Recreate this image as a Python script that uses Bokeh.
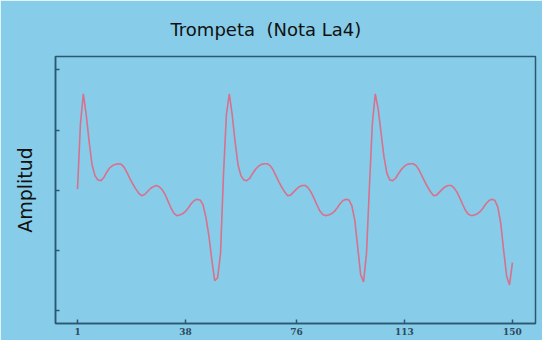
from bokeh.plotting import figure
from bokeh.models import FixedTicker, Range1d, CustomJSTickFormatter
from bokeh.embed import file_html
from bokeh.resources import INLINE

# sample index 1..150
samples = list(range(1, 151))
amplitude = [
    0.02, 1.10, 1.60, 1.25, 0.80, 0.42, 0.24, 0.17, 0.16, 0.21,
    0.30, 0.37, 0.41, 0.43, 0.44, 0.43, 0.38, 0.29, 0.19, 0.10,
    0.02, -0.05, -0.09, -0.07, -0.02, 0.03, 0.06, 0.08, 0.06, 0.01,
    -0.07, -0.18, -0.29, -0.38, -0.42, -0.41, -0.39, -0.35, -0.29, -0.22,
    -0.17, -0.15, -0.16, -0.24, -0.45, -0.75, -1.15, -1.50, -1.45, -1.05,
    0.25, 1.25, 1.60, 1.25, 0.80, 0.42, 0.24, 0.17, 0.16, 0.20,
    0.28, 0.35, 0.40, 0.43, 0.44, 0.44, 0.41, 0.34, 0.24, 0.14,
    0.05, -0.03, -0.09, -0.08, -0.03, 0.02, 0.06, 0.08, 0.08, 0.04,
    -0.03, -0.13, -0.24, -0.34, -0.40, -0.42, -0.41, -0.39, -0.35, -0.29,
    -0.22, -0.17, -0.15, -0.16, -0.26, -0.50, -0.95, -1.40, -1.52, -1.05,
    0.05, 1.10, 1.60, 1.35, 0.95, 0.55, 0.28, 0.17, 0.16, 0.20,
    0.28, 0.35, 0.40, 0.43, 0.44, 0.44, 0.41, 0.34, 0.24, 0.14,
    0.05, -0.03, -0.09, -0.08, -0.03, 0.02, 0.06, 0.08, 0.08, 0.04,
    -0.03, -0.13, -0.24, -0.34, -0.40, -0.42, -0.41, -0.39, -0.35, -0.29,
    -0.22, -0.17, -0.15, -0.17, -0.28, -0.55, -1.00, -1.42, -1.57, -1.20,
]
x_ticks = [1, 38, 76, 113, 150]
y_ticks = [-2, -1, 0, 1, 2]
title_text = "Trompeta \u00a0(Nota La4)"
y_label = "Amplitud"

BG = "#87CDE9"
AX = "#2b5870"

p = figure(width=542, height=340, output_backend="svg", toolbar_location=None,
           x_range=Range1d(-6.54, 157.9), y_range=Range1d(-2.21, 2.22),
           min_border_left=55, min_border_right=7, min_border_top=55,
           min_border_bottom=17)
p.background_fill_color = BG
p.border_fill_color = BG
p.outline_line_color = AX
p.outline_line_width = 1.5
p.grid.visible = False

p.title.text = title_text
p.title.align = "left"
p.title.offset = 115
p.title.text_font = "DejaVu Sans"
p.title.text_font_size = "18px"
p.title.text_font_style = "normal"
p.title.text_color = "#111111"
p.title.standoff = 33

p.line(samples, amplitude, line_color="#d9708c", line_width=1.6)

for ax in (p.xaxis[0], p.yaxis[0]):
    ax.axis_line_color = AX
    ax.axis_line_width = 1.5
    ax.major_tick_line_color = AX
    ax.major_tick_line_width = 1.5
    ax.major_tick_in = 4
    ax.major_tick_out = 0
    ax.minor_tick_line_color = None

p.xaxis.ticker = FixedTicker(ticks=x_ticks)
p.xaxis.major_label_text_font = "DejaVu Serif"
p.xaxis.major_label_text_font_size = "9px"
p.xaxis.major_label_text_font_style = "bold"
p.xaxis.major_label_text_color = "#2b4a5a"
p.xaxis.major_label_standoff = 4

p.yaxis.ticker = FixedTicker(ticks=y_ticks)
p.yaxis.formatter = CustomJSTickFormatter(code="return '';")
p.yaxis.major_label_standoff = 0
p.yaxis.axis_label = y_label
p.yaxis.axis_label_text_font = "DejaVu Sans"
p.yaxis.axis_label_text_font_size = "19px"
p.yaxis.axis_label_text_font_style = "normal"
p.yaxis.axis_label_text_color = "#111111"
p.yaxis.axis_label_standoff = 20

open("out.html", "w").write(file_html(p, INLINE))
